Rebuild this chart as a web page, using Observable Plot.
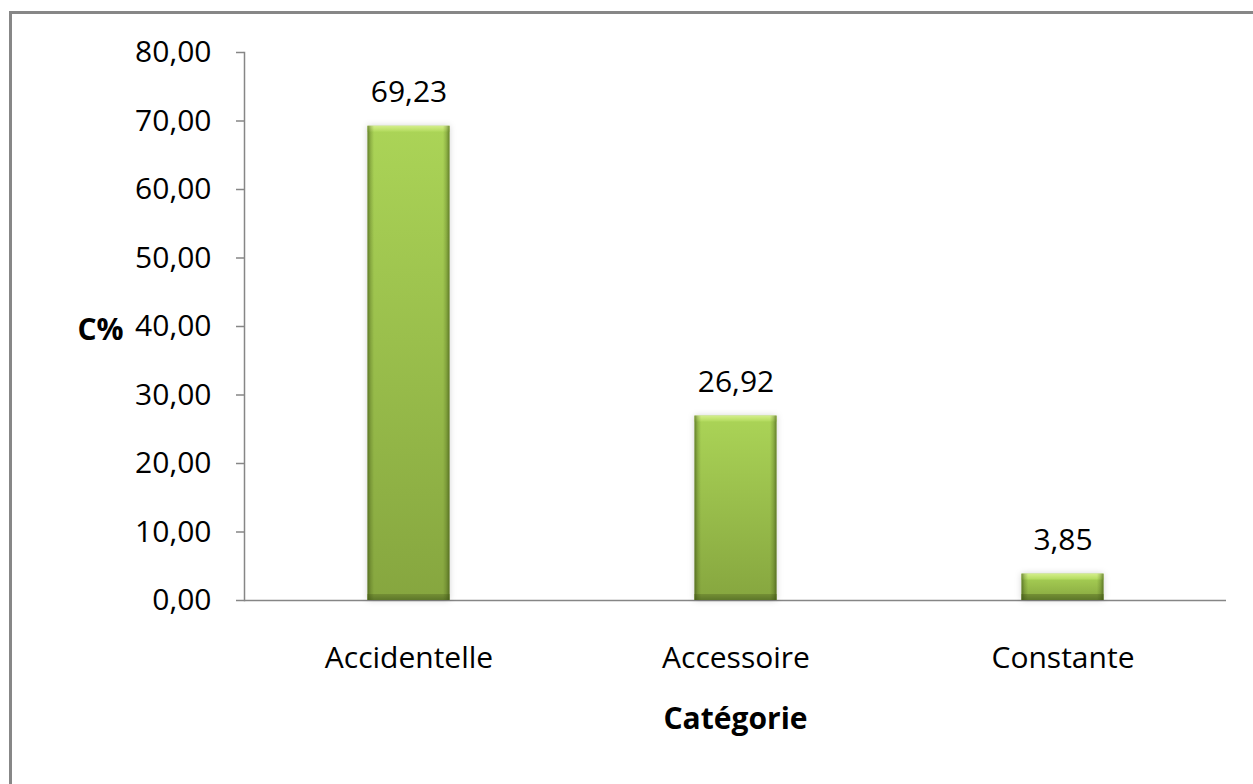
<!DOCTYPE html>
<html>
<head>
<meta charset="utf-8">
<script src="https://cdn.jsdelivr.net/npm/d3@7"></script>
<script src="https://cdn.jsdelivr.net/npm/@observablehq/plot@0.6"></script>
<style>
  html, body { margin: 0; padding: 0; background: #fff; overflow: hidden; width: 1253px; height: 784px; }
  #chart { position: absolute; left: 0; top: 0; }
  #frame { position: absolute; left: 9px; top: 11px; width: 2000px; height: 2000px;
           border-left: 3px solid #878787; border-top: 3px solid #878787; pointer-events: none; }
  #chart g.shadowed { filter: drop-shadow(0px 0px 3px rgba(0,0,0,0.18)); }
</style>
</head>
<body>
<div id="chart"></div>
<div id="frame"></div>
<script>
const categories = ["Accidentelle", "Accessoire", "Constante"];
const values = [69.23, 26.92, 3.85];
const yTicks = [0, 10, 20, 30, 40, 50, 60, 70, 80];
const yLabel = "C%";
const xLabel = "Catégorie";

const data = categories.map((c, i) => ({category: c, value: values[i]}));
const fmt = d => d.toFixed(2).replace(".", ",");
const font = "'Open Sans', 'Lato', sans-serif";

const grad = (g, id, horizontal, stops) => {
  const lg = g.append("linearGradient").attr("id", id)
    .attr("x1", 0).attr("y1", 0).attr("x2", horizontal ? 1 : 0).attr("y2", horizontal ? 0 : 1);
  stops.forEach(([o, c]) => lg.append("stop").attr("offset", o).attr("stop-color", c));
};
const defs = () => {
  const g = d3.create("svg:defs");
  grad(g, "barV", false, [[0, "#abd457"], [1, "#86a63f"]]);
  grad(g, "barTop", false, [[0, "#d3ee8c"], [0.5, "#c3e472"], [1, "#b0d95c"]]);
  grad(g, "barBot", false, [[0, "#748f34"], [1, "#5d772a"]]);
  grad(g, "barH", true, [[0, "rgba(55,75,15,0.6)"], [0.04, "rgba(55,75,15,0.22)"], [0.08, "rgba(55,75,15,0)"], [0.92, "rgba(55,75,15,0)"], [0.96, "rgba(55,75,15,0.22)"], [1, "rgba(55,75,15,0.6)"]]);
  return g.node();
};

const inset = 122.5;
const plot = Plot.plot({
  width: 1253,
  height: 784,
  marginLeft: 244,
  marginRight: 27,
  marginTop: 52,
  marginBottom: 184,
  style: {fontFamily: font, fontSize: "30px", background: "none", color: "#000"},
  x: {domain: categories, padding: 0},
  y: {domain: [0, 80]},
  marks: [
    defs,
    Plot.frame({anchor: "left", stroke: "#868686", strokeWidth: 1.5}),
    Plot.ruleY([0], {stroke: "#868686", strokeWidth: 1.5}),
    Plot.axisY({ticks: yTicks, tickFormat: fmt, tickSize: 8, tickPadding: 25, stroke: "#868686", strokeWidth: 1.5, label: null, fontSize: 30}),
    Plot.axisX({tickSize: 0, tickPadding: 46, label: null, fontSize: 30}),
    Plot.barY(data, {x: "category", y: "value", fill: "url(#barV)", insetLeft: inset, insetRight: inset, className: "shadowed"}),
    Plot.barY(data, {x: "category", y1: "value", y2: "value", insetBottom: -6, fill: "url(#barTop)", insetLeft: inset, insetRight: inset}),
    Plot.barY(data, {x: "category", y1: 0, y2: 0, insetTop: -6, fill: "url(#barBot)", insetLeft: inset, insetRight: inset}),
    Plot.barY(data, {x: "category", y: "value", fill: "url(#barH)", insetLeft: inset, insetRight: inset}),
    Plot.text(data, {x: "category", y: "value", text: d => fmt(d.value), dy: -34, fontSize: 30, fill: "#000"}),
    Plot.text([yLabel], {text: d => d, frameAnchor: "left", dx: -167, dy: 4, fontSize: 30, fontWeight: "bold", fill: "#000"}),
    Plot.text([xLabel], {text: d => d, frameAnchor: "bottom", dy: 128, fontSize: 30, fontWeight: "bold", fill: "#000"})
  ]
});
document.getElementById("chart").appendChild(plot);
</script>
</body>
</html>
